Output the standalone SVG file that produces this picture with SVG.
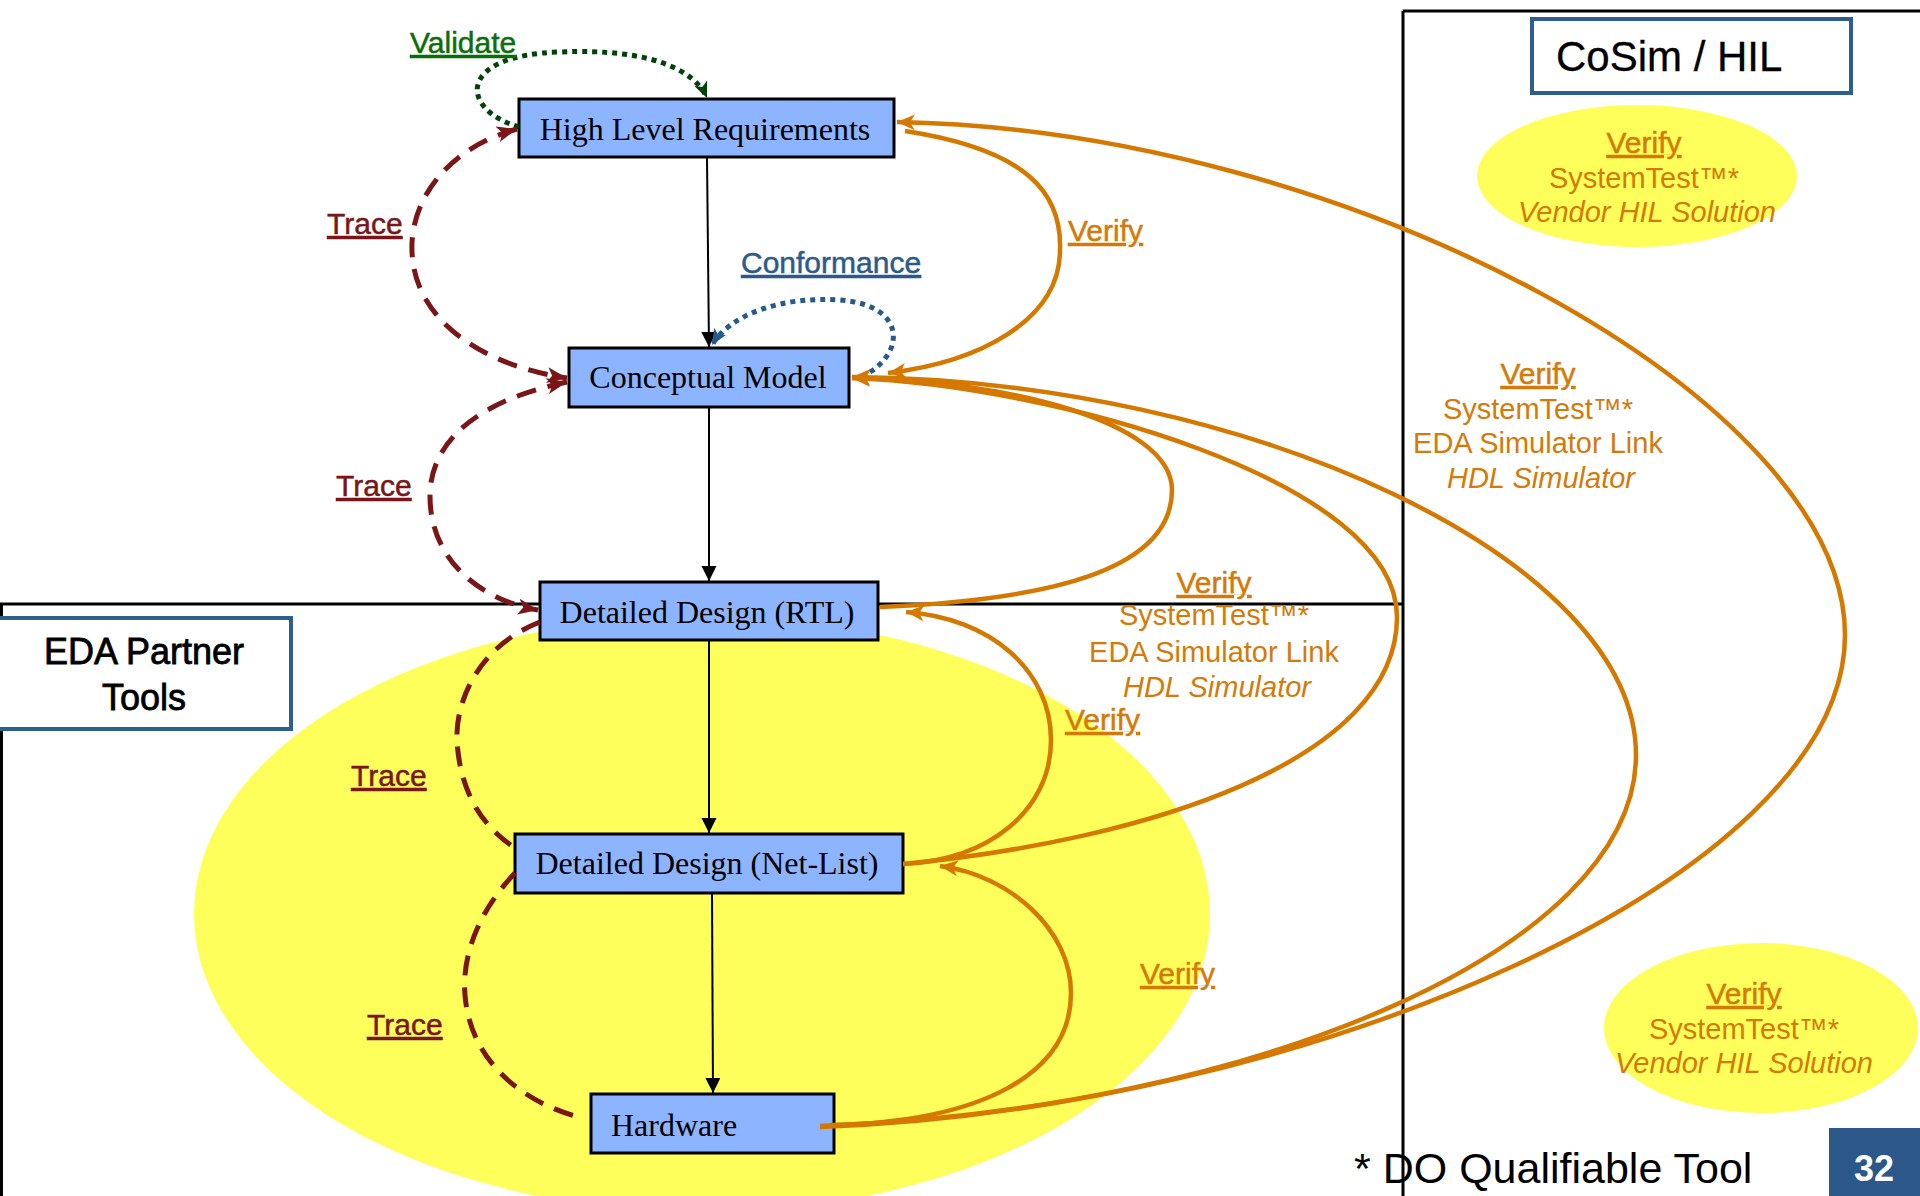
<svg xmlns="http://www.w3.org/2000/svg" width="1920" height="1196" viewBox="0 0 1920 1196">
  <style>
    .node rect { fill: #8db4fe; stroke: #000; stroke-width: 3; }
    .node text { font-family: "Liberation Serif", "Times New Roman", serif; font-size: 32px; fill: #000; }
    .lbl { font-family: "Liberation Sans", Arial, sans-serif; font-size: 29px; }
    .u { text-decoration: underline; font-size: 30px; stroke-width: 0.5; }
    .org { fill: #d47a08; }
    .org .u { stroke: #d47a08; }
    .trace-lbl { fill: #7a1618; stroke: #7a1618; }
    .region { fill: none; stroke: #000; stroke-width: 3; }
    .tag rect { fill: #fff; stroke: #2e5e8e; stroke-width: 4; }
    .tag text { font-family: "Liberation Sans", Arial, sans-serif; fill: #000; stroke: #000; }
    .flow { stroke: #000; stroke-width: 2; fill: none; marker-end: url(#arrBlack); }
    .trace { stroke: #7a1618; stroke-width: 5; fill: none; stroke-dasharray: 20 12; }
    .verify { stroke: #d47800; stroke-width: 4.5; fill: none; }
    .hl { fill: #ffff5b; }
  </style>
  <defs>
    <marker id="arrBlack" markerUnits="userSpaceOnUse" markerWidth="16" markerHeight="16" refX="15" refY="7.5" orient="auto">
      <path d="M0,0 L15,7.5 L0,15 z" fill="#000"/>
    </marker>
    <marker id="arrRed" markerUnits="userSpaceOnUse" markerWidth="22" markerHeight="16" refX="20" refY="8" orient="auto-start-reverse">
      <path d="M0,0 L20,8 L0,16 L5,8 z" fill="#7a1618"/>
    </marker>
    <marker id="arrGreen" markerUnits="userSpaceOnUse" markerWidth="18" markerHeight="16" refX="16" refY="7" orient="auto">
      <path d="M0,0 L16,7 L0,14 L4,7 z" fill="#00420a"/>
    </marker>
    <marker id="arrBlue" markerUnits="userSpaceOnUse" markerWidth="18" markerHeight="16" refX="16" refY="7" orient="auto">
      <path d="M0,0 L16,7 L0,14 L4,7 z" fill="#275a8c"/>
    </marker>
    <marker id="arrOrange" markerUnits="userSpaceOnUse" markerWidth="20" markerHeight="18" refX="18" refY="8" orient="auto">
      <path d="M0,0 L18,8 L0,16 L5,8 z" fill="#d47800"/>
    </marker>
  </defs>

  <rect width="1920" height="1196" fill="#fff"/>

  <!-- highlighted tool areas -->
  <ellipse class="hl" cx="702" cy="914" rx="508" ry="298"/>
  <ellipse class="hl" cx="1637" cy="176" rx="160" ry="71"/>
  <ellipse class="hl" cx="1761" cy="1028" rx="157" ry="85"/>

  <!-- region borders -->
  <path class="region" d="M0,604 H1403 M1.5,604 V1196 M1403,11 V1196 M1403,11 H1920"/>

  <g id="tag-eda" class="tag">
    <rect x="-2" y="618" width="293" height="111"/>
    <text x="144" y="664" font-size="36" stroke-width="0.8" text-anchor="middle">EDA Partner</text>
    <text x="144" y="710" font-size="36" stroke-width="0.8" text-anchor="middle">Tools</text>
  </g>
  <g id="tag-cosim" class="tag">
    <rect x="1532" y="19" width="319" height="74"/>
    <text x="1556" y="71" font-size="42" stroke-width="0.3">CoSim / HIL</text>
  </g>

  <!-- nodes -->
  <g id="node-hlr" class="node">
    <rect x="519" y="99" width="375" height="58"/>
    <text x="705" y="140" text-anchor="middle">High Level Requirements</text>
  </g>
  <g id="node-cm" class="node">
    <rect x="569" y="348" width="280" height="59"/>
    <text x="708" y="388" text-anchor="middle">Conceptual Model</text>
  </g>
  <g id="node-rtl" class="node">
    <rect x="540" y="582" width="338" height="58"/>
    <text x="707" y="623" text-anchor="middle">Detailed Design (RTL)</text>
  </g>
  <g id="node-netlist" class="node">
    <rect x="515" y="834" width="388" height="59"/>
    <text x="707" y="874" text-anchor="middle">Detailed Design (Net-List)</text>
  </g>
  <g id="node-hw" class="node">
    <rect x="591" y="1094" width="243" height="59"/>
    <text x="611" y="1136">Hardware</text>
  </g>

  <!-- connectors -->
  <g id="connectors">
    <!-- design flow -->
    <path class="flow" d="M707,157 L709,347"/>
    <path class="flow" d="M709,407 L709,581"/>
    <path class="flow" d="M709,641 L709,833"/>
    <path class="flow" d="M712,893 L713,1093"/>

    <!-- validate / conformance loops -->
    <path d="M519,127 C460,110 455,55 560,52 C650,48 695,70 707,98" fill="none" stroke="#00420a" stroke-width="5" stroke-dasharray="5 5" marker-end="url(#arrGreen)"/>
    <path d="M870,372 C905,350 905,305 840,300 C780,296 730,315 712,345" fill="none" stroke="#275a8c" stroke-width="5" stroke-dasharray="5 5" marker-end="url(#arrBlue)"/>

    <!-- trace links -->
    <path class="trace" d="M517,129 C440,150 405,210 413,262 C420,320 480,365 567,378" marker-start="url(#arrRed)" marker-end="url(#arrRed)"/>
    <path class="trace" d="M567,382 C480,400 430,440 430,496 C430,560 480,600 538,610" marker-start="url(#arrRed)" marker-end="url(#arrRed)"/>
    <path class="trace" d="M540,622 C480,645 455,700 457,741 C460,790 480,825 515,848"/>
    <path class="trace" d="M515,873 C475,915 462,960 465,995 C470,1060 520,1100 575,1116"/>

    <!-- verify links -->
    <path class="verify" d="M905,131 C1030,150 1062,195 1060,250 C1060,320 980,362 888,373" marker-end="url(#arrOrange)"/>
    <path class="verify" d="M880,607 C1050,600 1172,570 1172,490 C1172,420 1000,380 852,378" marker-end="url(#arrOrange)"/>
    <path class="verify" d="M903,864 C990,860 1051,810 1051,740 C1051,670 990,618 906,612" marker-end="url(#arrOrange)"/>
    <path class="verify" d="M830,1125 C980,1122 1071,1075 1071,993 C1071,930 1010,875 940,866" marker-end="url(#arrOrange)"/>
    <path class="verify" d="M903,864 C1150,840 1397,760 1397,617 C1397,480 1050,385 852,378" marker-end="url(#arrOrange)"/>
    <path class="verify" d="M820,1127 C1300,1110 1845,880 1845,635 C1845,400 1350,130 897,122" marker-end="url(#arrOrange)"/>
    <path class="verify" d="M820,1126 C1250,1110 1636,950 1636,755 C1636,560 1250,380 852,377" marker-end="url(#arrOrange)"/>
  </g>

  <!-- link labels -->
  <g id="labels" class="lbl">
    <text x="410" y="53" class="u" fill="#0a6e0a" stroke="#0a6e0a">Validate</text>
    <text x="741" y="273" class="u" fill="#2c5b8b" stroke="#2c5b8b" font-size="29">Conformance</text>
    <text x="327" y="234" class="u trace-lbl">Trace</text>
    <text x="336" y="496" class="u trace-lbl">Trace</text>
    <text x="351" y="786" class="u trace-lbl">Trace</text>
    <text x="367" y="1035" class="u trace-lbl">Trace</text>

    <g class="org">
      <text x="1068" y="241" class="u">Verify</text>
      <text x="1065" y="730" class="u">Verify</text>
      <text x="1140" y="984" class="u">Verify</text>
    </g>

    <g class="org" text-anchor="middle">
      <text x="1214" y="593" class="u">Verify</text>
      <text x="1214" y="625">SystemTest™*</text>
      <text x="1214" y="662">EDA Simulator Link</text>
      <text x="1217" y="697" font-style="italic">HDL Simulator</text>
    </g>
    <g class="org" text-anchor="middle">
      <text x="1538" y="384" class="u">Verify</text>
      <text x="1538" y="419">SystemTest™*</text>
      <text x="1538" y="453">EDA Simulator Link</text>
      <text x="1541" y="488" font-style="italic">HDL Simulator</text>
    </g>
    <g class="org" text-anchor="middle">
      <text x="1644" y="153" class="u">Verify</text>
      <text x="1644" y="188">SystemTest™*</text>
      <text x="1647" y="222" font-style="italic">Vendor HIL Solution</text>
    </g>
    <g class="org" text-anchor="middle">
      <text x="1744" y="1004" class="u">Verify</text>
      <text x="1744" y="1039">SystemTest™*</text>
      <text x="1744" y="1073" font-style="italic">Vendor HIL Solution</text>
    </g>
  </g>

  <!-- footer -->
  <text x="1354" y="1183" font-family="'Liberation Sans', Arial, sans-serif" font-size="43" fill="#000">* DO Qualifiable Tool</text>
  <rect x="1829" y="1128" width="91" height="68" fill="#2b5889"/>
  <text x="1874" y="1181" font-family="'Liberation Sans', Arial, sans-serif" font-size="36" font-weight="bold" fill="#fff" text-anchor="middle">32</text>
</svg>
